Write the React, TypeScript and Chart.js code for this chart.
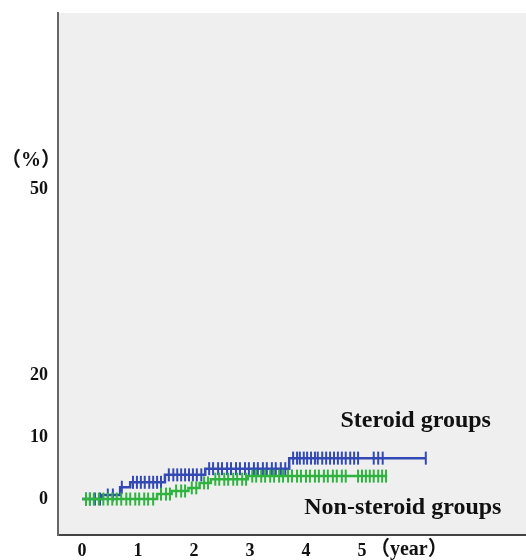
import React, { useEffect, useRef } from "react";
import { Chart, registerables } from "chart.js";
Chart.register(...registerables);

const xTicks = [0, 1, 2, 3, 4, 5];
const yTicks = [0, 10, 20, 50];

const steroidStepTimes = [0, 0.36, 0.68, 0.86, 1.48, 2.2, 3.7, 6.14];
const steroidStepValues = [0, 0.65, 1.9, 2.7, 3.9, 4.9, 6.6, 6.6];
const steroidCensor = [
  0.07, 0.14, 0.23, 0.32, 0.46, 0.55, 0.71, 0.91, 0.98, 1.05, 1.12, 1.2, 1.27, 1.34, 1.41,
  1.55, 1.63, 1.7, 1.77, 1.84, 1.91, 1.98, 2.05, 2.13,
  2.27, 2.34, 2.43, 2.5, 2.59, 2.66, 2.75, 2.82, 2.91, 2.98, 3.07, 3.14, 3.23, 3.3, 3.39, 3.46, 3.55, 3.63,
  3.77, 3.84, 3.89, 3.96, 4.02, 4.09, 4.16, 4.21, 4.29, 4.36, 4.43, 4.5, 4.57, 4.64, 4.71, 4.79, 4.86, 4.93,
  5.21, 5.29, 5.37, 6.14,
];

const nonStepTimes = [0, 1.34, 1.6, 1.9, 2.1, 2.3, 2.96, 5.45];
const nonStepValues = [0, 0.8, 1.3, 1.8, 2.6, 3.2, 3.7, 3.7];
const nonCensor = [
  0.07, 0.14, 0.21, 0.3, 0.38, 0.46, 0.54, 0.62, 0.7, 0.79, 0.86, 0.95, 1.02, 1.11, 1.18, 1.27,
  1.41, 1.5, 1.57, 1.68, 1.77, 1.84, 1.96, 2.04, 2.18, 2.25,
  2.38, 2.45, 2.54, 2.61, 2.7, 2.77, 2.86, 2.93,
  3.04, 3.11, 3.2, 3.27, 3.36, 3.43, 3.52, 3.59, 3.68, 3.75, 3.84, 3.91, 4.0, 4.07, 4.16, 4.23, 4.32, 4.39,
  4.48, 4.55, 4.64, 4.71, 4.93, 5.0, 5.07, 5.14, 5.21, 5.29, 5.36, 5.43,
];

const seriesLabels = ["Steroid groups", "Non-steroid groups"];
const labelPos = [
  { x: 5.96, y: 12.7 },
  { x: 5.73, y: -1.45 },
];
const yUnit = "（%）";
const xUnit = "（year）";

const BLUE = "#3349b4";
const GREEN = "#2fb33f";
const FONT = "'Liberation Serif', 'Times New Roman', 'Noto Sans CJK SC', serif";

function stepAt(times: number[], values: number[], t: number) {
  let v = values[0];
  for (let i = 0; i < times.length; i++) if (times[i] <= t) v = values[i];
  return v;
}

function zeroPad(s: any) {
  s.paddingTop = 0;
  s.paddingBottom = 0;
  s.paddingLeft = 0;
  s.paddingRight = 0;
}

export default function App() {
  const ref = useRef<HTMLCanvasElement | null>(null);
  useEffect(() => {
    if (!ref.current) return;
    const plugin = {
      id: "decor",
      beforeDraw(chart: any) {
        const { ctx, chartArea } = chart;
        ctx.save();
        ctx.fillStyle = "#efefef";
        ctx.fillRect(chartArea.left, chartArea.top, chartArea.right - chartArea.left, chartArea.bottom - chartArea.top);
        ctx.restore();
      },
      afterDraw(chart: any) {
        const { ctx } = chart;
        const xs = chart.scales.x;
        const ys = chart.scales.y;
        ctx.save();
        ctx.fillStyle = "#111";
        ctx.textBaseline = "middle";
        ctx.font = `bold 24px ${FONT}`;
        ctx.textAlign = "center";
        seriesLabels.forEach((s, i) => {
          ctx.fillText(s, xs.getPixelForValue(labelPos[i].x), ys.getPixelForValue(labelPos[i].y));
        });
        ctx.font = `bold 20px ${FONT}`;
        ctx.textAlign = "center";
        ctx.fillText(yUnit, 31, ys.getPixelForValue(yTicks[yTicks.length - 1]) - 28);
        ctx.textAlign = "left";
        ctx.fillText(xUnit, xs.getPixelForValue(xTicks[xTicks.length - 1]) + 8, 550);
        ctx.restore();
      },
    };
    const stepData = (times: number[], values: number[]) => times.map((t, i) => ({ x: t, y: values[i] }));
    const censorData = (c: number[], times: number[], values: number[]) =>
      c.map((t) => ({ x: t, y: stepAt(times, values, t) }));
    const chart = new Chart(ref.current, {
      type: "line",
      data: {
        datasets: [
          {
            label: "nc",
            data: censorData(nonCensor, nonStepTimes, nonStepValues),
            showLine: false,
            pointStyle: "line",
            rotation: 90,
            pointRadius: 6.5,
            borderColor: GREEN,
            backgroundColor: GREEN,
            borderWidth: 2,
          } as any,
          {
            label: seriesLabels[1],
            data: stepData(nonStepTimes, nonStepValues),
            stepped: "before",
            borderColor: GREEN,
            borderWidth: 2.5,
            pointRadius: 0,
            fill: false,
          },
          {
            label: "sc",
            data: censorData(steroidCensor, steroidStepTimes, steroidStepValues),
            showLine: false,
            pointStyle: "line",
            rotation: 90,
            pointRadius: 6.5,
            borderColor: BLUE,
            backgroundColor: BLUE,
            borderWidth: 2,
          } as any,
          {
            label: seriesLabels[0],
            data: stepData(steroidStepTimes, steroidStepValues),
            stepped: "before",
            borderColor: BLUE,
            borderWidth: 2.5,
            pointRadius: 0,
            fill: false,
          },
        ],
      },
      options: {
        animation: false,
        responsive: false,
        devicePixelRatio: 1,
        layout: { autoPadding: false, padding: { top: 13, left: 0, right: 0, bottom: 0 } },
        plugins: { legend: { display: false }, tooltip: { enabled: false } },
        scales: {
          x: {
            type: "linear",
            min: -0.43,
            max: 7.93,
            grid: { display: false },
            border: { display: true, color: "#444", width: 2 },
            afterBuildTicks: (s: any) => {
              s.ticks = xTicks.map((v) => ({ value: v }));
            },
            afterFit: (s: any) => {
              s.height = 25;
              zeroPad(s);
            },
            ticks: {
              padding: -2,
              color: "#111",
              font: { family: FONT, size: 18, weight: "bold" },
              callback: (v: any) => String(v),
            },
          },
          y: {
            type: "linear",
            min: -5.8,
            max: 78.4,
            grid: { display: false },
            border: { display: true, color: "#666", width: 2 },
            afterBuildTicks: (s: any) => {
              s.ticks = yTicks.map((v) => ({ value: v }));
            },
            afterFit: (s: any) => {
              s.width = 58;
              zeroPad(s);
            },
            ticks: {
              padding: 2,
              color: "#111",
              font: { family: FONT, size: 18, weight: "bold" },
              callback: (v: any) => String(v),
            },
          },
        },
      },
      plugins: [plugin],
    });
    return () => chart.destroy();
  }, []);
  return (
    <div style={{ position: "absolute", left: 0, top: 0, width: 526, height: 560, background: "#fff", overflow: "hidden" }}>
      <canvas ref={ref} width={526} height={560} style={{ display: "block", width: 526, height: 560 }} />
    </div>
  );
}
